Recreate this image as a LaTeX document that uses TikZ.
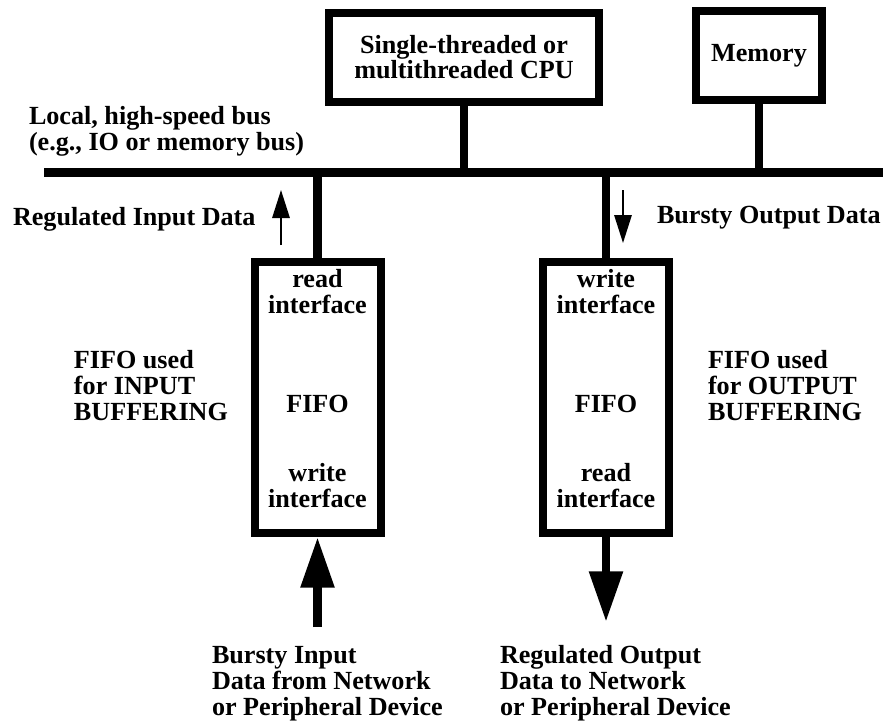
\documentclass[tikz,border=0pt]{standalone}
\usepackage{fontspec}
\setmainfont{Liberation Serif}
\usetikzlibrary{positioning}
\usetikzlibrary{arrows.meta}

\begin{document}
\begin{tikzpicture}[x=0.75pt,y=-0.75pt,font=\fontsize{19.6}{19.2}\selectfont\bfseries,
	box/.style={draw=black,line width=6pt,inner sep=0pt,outer sep=3pt},
	wire/.style={line width=6.5pt},
	lbl/.style={inner sep=0pt,outer sep=0pt,align=left,anchor=base west},
	big/.style={line width=6.5pt,-{Triangle[width=24pt,length=38pt]}},
	small/.style={line width=1.5pt,-{Triangle[width=13pt,length=21pt]}}]
	\useasboundingbox (0,0) rectangle (883,722);

	\node [box,minimum width=202.5pt,minimum height=66.75pt,align=center] at (464,57) (cpu) {Single-threaded or\\multithreaded CPU};
	\node [box,minimum width=94.5pt,minimum height=66.75pt] at (759,55.5) (mem) {Memory};

	\coordinate (busL) at (44,172.5);
	\coordinate (busR) at (883,172.5);
	\draw[line width=6.75pt] (busL) -- (busR);
	\node [lbl] at (29,150) (bus_txt) {Local, high-speed bus\\(e.g., IO or memory bus)};

	\draw[wire] (cpu.south) -- (cpu.south|-busL);
	\draw[wire] (mem.south) -- (mem.south|-busL);

	\node [box,minimum width=94.5pt,minimum height=203.25pt] at (317.5,397.5) (fifo_in) {};
	\node [box,minimum width=94.5pt,minimum height=203.25pt] at (606,397.5) (fifo_out) {};
	\draw[wire] (fifo_in.north) -- (fifo_in.north|-busL);
	\draw[wire] (fifo_out.north) -- (fifo_out.north|-busL);

	\node [anchor=base,align=center,inner sep=0pt] at (317.5,313) (fifo_in_rd) {read\\interface};
	\node [anchor=base,inner sep=0pt] at (317.5,412) (fifo_in_mid) {FIFO};
	\node [anchor=base,align=center,inner sep=0pt] at (317.5,507) (fifo_in_wr) {write\\interface};
	\node [anchor=base,align=center,inner sep=0pt] at (606,313) (fifo_out_wr) {write\\interface};
	\node [anchor=base,inner sep=0pt] at (606,412) (fifo_out_mid) {FIFO};
	\node [anchor=base,align=center,inner sep=0pt] at (606,507) (fifo_out_rd) {read\\interface};

	\node [lbl] at (74,420) (fifo_in_txt) {FIFO used\\for INPUT\\BUFFERING};
	\node [lbl] at (708,420) (fifo_out_txt) {FIFO used\\for OUTPUT\\BUFFERING};

	% small flow arrows next to the bus stems
	\coordinate (up_from) at (281,245);
	\coordinate (up_to) at (281,190);
	\draw[small] (up_from) -- (up_to);
	\node [lbl] at (13,225) (in_txt) {Regulated Input Data};
	\coordinate (down_from) at (623,190);
	\coordinate (down_to) at (623,243);
	\draw[small] (down_from) -- (down_to);
	\node [lbl] at (657,223) (out_txt) {Bursty Output Data};

	% device side
	\coordinate (src) at (317.5,627);
	\coordinate (dst) at (606,622);
	\draw[big] (src) -- (fifo_in.south);
	\draw[big] (fifo_out.south) -- (dst);
	\node [lbl] at (212,715) (src_txt) {Bursty Input\\Data from Network\\or Peripheral Device};
	\node [lbl] at (500,715) (dst_txt) {Regulated Output\\Data to Network\\or Peripheral Device};
\end{tikzpicture}
\end{document}
